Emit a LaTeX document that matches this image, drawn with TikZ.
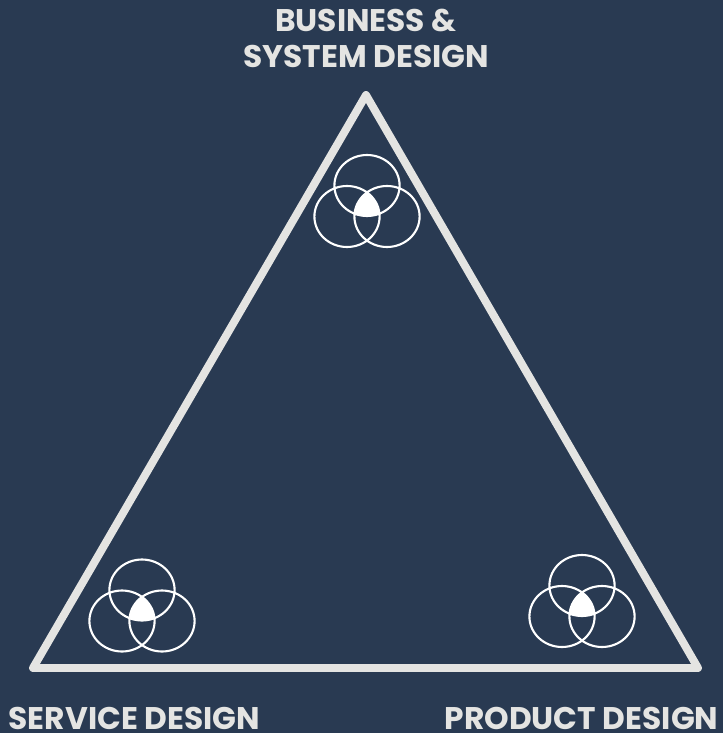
\documentclass[tikz,border=0pt]{standalone}
\usepackage{fontspec}
\setmainfont{Poppins}
\usepackage{xcolor}
\usetikzlibrary{positioning}
\definecolor{navy}{HTML}{293A52}
\definecolor{edge}{HTML}{E4E4E2}
\tikzset{
  frame/.style={draw=edge,line width=4.5pt,line join=round},
  ring/.style={draw=white,line width=1.2pt},
  title/.style={text=edge,font=\bfseries\fontsize{17.8}{20.4}\selectfont,align=center,inner sep=0pt}
}

\begin{document}
\begin{tikzpicture}[scale=0.2]
\fill [navy] (0,0) rectangle (72.3,-73.3);
\useasboundingbox (0,0) rectangle (72.3,-73.3);
% corners
\coordinate (apex) at (36.6,-9.5);
\coordinate (service) at (3.3,-66.8);
\coordinate (product) at (69.8,-66.8);
\draw [frame] (apex) -- (product) -- (service) -- cycle;
% three rings at each corner
\foreach \cx/\cy in {36.7/-18.55,14.2/-59,58.2/-58.55} {
  \begin{scope}[shift={(\cx,\cy)}]
  \begin{scope}
  \clip (0,0) ellipse (3.26 and 3.05);
  \clip (-2,-3.1) ellipse (3.26 and 3.05);
  \fill [white] (2,-3.1) ellipse (3.26 and 3.05);
  \end{scope}
  \draw [ring] (0,0) ellipse (3.26 and 3.05);
  \draw [ring] (-2,-3.1) ellipse (3.26 and 3.05);
  \draw [ring] (2,-3.1) ellipse (3.26 and 3.05);
  \end{scope}
}
% labels
\node [title] (business) at (36.6,-3.8) {BUSINESS \&\\SYSTEM DESIGN};
\node [title] (servicelabel) at (13.45,-71.85) {SERVICE DESIGN};
\node [title] (productlabel) at (58.15,-71.85) {PRODUCT DESIGN};
\end{tikzpicture}
\end{document}
